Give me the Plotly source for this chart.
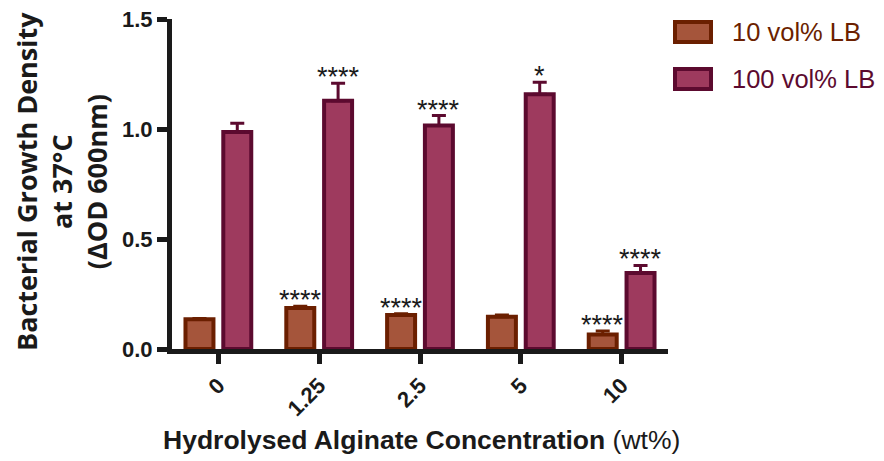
import plotly.graph_objects as go

categories = ["0", "1.25", "2.5", "5", "10"]
lb10_values = [0.135, 0.186, 0.155, 0.147, 0.066]
lb10_errors = [0.004, 0.008, 0.005, 0.008, 0.016]
lb100_values = [0.986, 1.128, 1.016, 1.158, 0.345]
lb100_errors = [0.040, 0.080, 0.045, 0.055, 0.035]
lb10_sig = ["", "****", "****", "", "****"]
lb100_sig = ["", "****", "****", "*", "****"]
series_names = ["10 vol% LB", "100 vol% LB"]
x_title = "<b>Hydrolysed Alginate Concentration</b> (wt%)"
y_title = "<b>Bacterial Growth Density<br>at 37°C<br>(ΔOD 600nm)</b>"

FONT = "Liberation Sans, Arial, Helvetica, sans-serif"
TFONT = "Open Sans, Liberation Sans, sans-serif"
C10_FILL, C10_LINE = "#A5553B", "#6B1F00"
C100_FILL, C100_LINE = "#9E3A5E", "#5C0A2F"
AX = "#1a1a1a"
BARGAP = 0.25

# page has an 8px body margin: figure is drawn 8px smaller and offset
PAD = 8
FIG_W, FIG_H = 884 - PAD, 461 - PAD
# plot-area geometry in page px
PL, PT, PB, PR = 172, 19, 349, 668
L, T = PL - PAD, PT - PAD
W, H = PR - PL, PB - PT


def px(xp):
    return (xp - PL) / W


def py(yp):
    return (PB - yp) / H


xs = list(range(len(categories)))

fig = go.Figure()
fig.add_trace(go.Bar(
    x=xs, y=lb10_values, name=series_names[0],
    marker=dict(color=C10_FILL, line=dict(color=C10_LINE, width=4)),
    error_y=dict(type="data", array=lb10_errors, arrayminus=[0]*5, symmetric=False,
                 color=C10_LINE, thickness=3, width=7),
    showlegend=False,
))
fig.add_trace(go.Bar(
    x=xs, y=lb100_values, name=series_names[1],
    marker=dict(color=C100_FILL, line=dict(color=C100_LINE, width=4)),
    error_y=dict(type="data", array=lb100_errors, arrayminus=[0]*5, symmetric=False,
                 color=C100_LINE, thickness=3, width=7),
    showlegend=False,
))

off = (1 - BARGAP) / 4
for i in xs:
    for vals, errs, sig, sgn in [(lb10_values, lb10_errors, lb10_sig, -1),
                                 (lb100_values, lb100_errors, lb100_sig, 1)]:
        if sig[i]:
            fig.add_annotation(x=i + sgn * off, y=vals[i] + errs[i], text=sig[i],
                               showarrow=False, xref="x", yref="y",
                               yanchor="bottom", yshift=-11,
                               font=dict(family=FONT, size=27, color=AX))

# manual legend
legend_items = [(series_names[0], C10_FILL, C10_LINE, 22, 42, 32),
                (series_names[1], C100_FILL, C100_LINE, 69, 89, 78.5)]
for name, fill, line, y0, y1, yc in legend_items:
    fig.add_shape(type="rect", xref="paper", yref="paper",
                  x0=px(675), x1=px(711), y0=py(y1), y1=py(y0),
                  fillcolor=fill, line=dict(color=line, width=4))
    fig.add_annotation(xref="paper", yref="paper", x=px(730), y=py(yc),
                       text=name, showarrow=False, xanchor="left", yanchor="middle",
                       font=dict(family=FONT, size=25.5, color=line))

# axis titles
fig.add_annotation(xref="paper", yref="paper", x=px(421), y=py(440),
                   text=x_title, showarrow=False, xanchor="center", yanchor="middle",
                   font=dict(family=FONT, size=26.5, color=AX))
fig.add_annotation(xref="paper", yref="paper", x=px(61), y=py(182),
                   text=y_title, showarrow=False, xanchor="center", yanchor="middle",
                   textangle=-90,
                   font=dict(family=TFONT, size=27, color=AX))

fig.update_layout(
    width=FIG_W, height=FIG_H,
    margin=dict(l=L, r=FIG_W - L - W, t=T, b=FIG_H - T - H, autoexpand=False),
    paper_bgcolor="white", plot_bgcolor="white",
    barmode="group", bargap=BARGAP, bargroupgap=0.26,
    font=dict(family=FONT, color=AX),
    xaxis=dict(
        range=[-0.46, 4.46], tickmode="array", tickvals=xs,
        ticktext=["<b>%s</b>" % c for c in categories],
        tickangle=-45, tickfont=dict(size=22, color=AX),
        ticks="outside", ticklen=10, tickwidth=5, tickcolor=AX,
        showline=True, linewidth=5, linecolor=AX, showgrid=False, zeroline=False,
        automargin=False, ticklabeloverflow="allow",
    ),
    yaxis=dict(
        range=[0, 1.5], tickmode="array", tickvals=[0, 0.5, 1.0, 1.5],
        ticktext=["<b>0.0</b>", "<b>0.5</b>", "<b>1.0</b>", "<b>1.5</b>"],
        tickfont=dict(size=22, color=AX),
        ticks="outside", ticklen=10, tickwidth=5, tickcolor=AX,
        showline=True, linewidth=5, linecolor=AX, showgrid=False, zeroline=False,
        automargin=False, ticklabeloverflow="allow",
    ),
)

fig.write_html("out.html")
